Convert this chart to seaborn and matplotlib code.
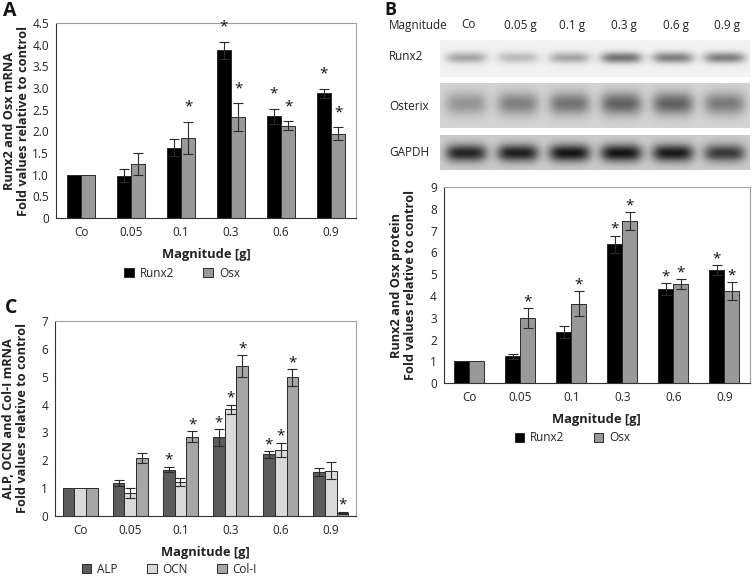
import numpy as np
import pandas as pd
import matplotlib
matplotlib.use("Agg")
import matplotlib.pyplot as plt
import matplotlib.transforms as mtransforms
import seaborn as sns

magnitudes = ["Co", "0.05", "0.1", "0.3", "0.6", "0.9"]
lane_labels = ["Co", "0.05 g", "0.1 g", "0.3 g", "0.6 g", "0.9 g"]

# panel A - mRNA
a_runx2 = [1.0, 0.98, 1.62, 3.87, 2.35, 2.88]
a_runx2_err = [0.0, 0.15, 0.20, 0.20, 0.17, 0.10]
a_runx2_sig = [0, 0, 0, 1, 1, 1]
a_osx = [1.0, 1.25, 1.85, 2.33, 2.13, 1.95]
a_osx_err = [0.0, 0.25, 0.37, 0.32, 0.10, 0.14]
a_osx_sig = [0, 0, 1, 1, 1, 1]

# panel B - protein
b_runx2 = [1.0, 1.22, 2.34, 6.38, 4.32, 5.20]
b_runx2_err = [0.0, 0.10, 0.28, 0.40, 0.28, 0.23]
b_runx2_sig = [0, 0, 0, 1, 1, 1]
b_osx = [1.0, 2.99, 3.65, 7.44, 4.55, 4.23]
b_osx_err = [0.0, 0.45, 0.56, 0.42, 0.22, 0.42]
b_osx_sig = [0, 1, 1, 1, 1, 1]

# panel C - ALP, OCN, Col-I mRNA
c_alp = [1.0, 1.18, 1.67, 2.82, 2.22, 1.58]
c_alp_err = [0.0, 0.10, 0.10, 0.30, 0.12, 0.13]
c_alp_sig = [0, 0, 1, 1, 1, 0]
c_ocn = [1.0, 0.82, 1.22, 3.83, 2.38, 1.63]
c_ocn_err = [0.0, 0.18, 0.14, 0.17, 0.25, 0.30]
c_ocn_sig = [0, 0, 0, 1, 1, 0]
c_col = [1.0, 2.08, 2.85, 5.38, 4.97, 0.12]
c_col_err = [0.0, 0.18, 0.20, 0.40, 0.30, 0.04]
c_col_sig = [0, 0, 1, 1, 1, 1]

# western blot band strengths (0 = none, 1 = black)
blot_runx2 = [0.30, 0.22, 0.30, 0.50, 0.45, 0.45]
blot_osterix = [0.25, 0.33, 0.38, 0.45, 0.45, 0.35]
blot_gapdh = [0.66, 0.68, 0.72, 0.72, 0.70, 0.58]


def make_df(names, values, errs, sigs):
    rows = []
    for name, v, e, s in zip(names, values, errs, sigs):
        for m, vi, ei, si in zip(magnitudes, v, e, s):
            rows.append({"magnitude": m, "gene": name, "value": vi, "err": ei, "sig": si})
    return pd.DataFrame(rows)


sns.set_style("white")
plt.rcParams["font.family"] = ["Open Sans", "DejaVu Sans"]
txt = "#222222"

fig = plt.figure(figsize=(7.56, 5.76), dpi=100)


def bar_panel(ax, df, palette, width, ymax, yticks, yticklabels, ylabel, star_pt, legend_x, legend_y):
    genes = list(df["gene"].unique())
    sns.barplot(data=df, x="magnitude", y="value", hue="gene", palette=palette,
                width=width, errorbar=None, saturation=1, edgecolor="#2a2a2a",
                linewidth=0.7, ax=ax)
    for cont, gene in zip(ax.containers, genes):
        sub = df[df["gene"] == gene]
        for bar, (_, row) in zip(cont, sub.iterrows()):
            x = bar.get_x() + bar.get_width() / 2
            top = bar.get_height()
            if row["err"] > 0:
                ax.errorbar(x, top, yerr=row["err"], fmt="none", ecolor="#2a2a2a",
                            elinewidth=0.8, capsize=3.5, capthick=0.8)
            if row["sig"]:
                ax.annotate("*", xy=(x, top + row["err"]), xytext=(0, star_pt),
                            textcoords="offset points", ha="center", va="baseline",
                            fontsize=11, color="#111111")
    ax.set_xlim(-0.5, 5.5)
    ax.set_ylim(0, ymax)
    ax.set_yticks(yticks)
    ax.set_yticklabels(yticklabels)
    ax.set_xticks(range(len(magnitudes)))
    ax.set_xticklabels(magnitudes)
    ax.set_xticks(np.arange(-0.5, 6, 1), minor=True)
    ax.tick_params(axis="x", which="major", length=0, pad=6, labelsize=8.5, labelcolor=txt)
    ax.tick_params(axis="x", which="minor", length=4, width=0.8, color="#555555", direction="out")
    ax.tick_params(axis="y", length=3, width=0.8, color="#333333", direction="out",
                   labelsize=8.5, labelcolor=txt, pad=2)
    ax.set_xlabel("Magnitude [g]", fontsize=9.3, fontweight="bold", color=txt, labelpad=6)
    ax.set_ylabel(ylabel, fontsize=9.2, fontweight="bold", color=txt, linespacing=1.05)
    ax.yaxis.set_label_coords(-0.088, 0.5)
    for s in ["left", "bottom"]:
        ax.spines[s].set_color("#333333")
        ax.spines[s].set_linewidth(0.8)
    for s in ["top", "right"]:
        ax.spines[s].set_color("#a0a0a0")
        ax.spines[s].set_linewidth(0.8)
    sns.move_legend(ax, "center", bbox_to_anchor=(legend_x, legend_y), ncol=len(genes),
                    frameon=False, title=None, fontsize=8.5, handlelength=0.8,
                    handleheight=0.8, handletextpad=0.5, columnspacing=2.5)
    for t in ax.get_legend().get_texts():
        t.set_color(txt)


# panel A
ax_a = fig.add_axes([0.074, 0.6215, 0.397, 0.3385])
df_a = make_df(["Runx2", "Osx"], [a_runx2, a_osx], [a_runx2_err, a_osx_err], [a_runx2_sig, a_osx_sig])
bar_panel(ax_a, df_a, ["#000000", "#999999"], 0.57, 4.5, np.arange(0, 4.51, 0.5),
          ["0", "0.5", "1.0", "1.5", "2.0", "2.5", "3.0", "3.5", "4.0", "4.5"],
          "Runx2 and Osx mRNA\nFold values relative to control", 8, 0.42, -0.285)

# panel B chart
ax_b = fig.add_axes([0.587, 0.335, 0.405, 0.340])
df_b = make_df(["Runx2", "Osx"], [b_runx2, b_osx], [b_runx2_err, b_osx_err], [b_runx2_sig, b_osx_sig])
bar_panel(ax_b, df_b, ["#000000", "#999999"], 0.59, 9, range(10), [str(i) for i in range(10)],
          "Runx2 and Osx protein\nFold values relative to control", 2, 0.42, -0.28)

# panel C
ax_c = fig.add_axes([0.0728, 0.104, 0.398, 0.339])
df_c = make_df(["ALP", "OCN", "Col-I"], [c_alp, c_ocn, c_col], [c_alp_err, c_ocn_err, c_col_err],
               [c_alp_sig, c_ocn_sig, c_col_sig])
bar_panel(ax_c, df_c, ["#5c5c5c", "#d9d9d9", "#a6a6a6"], 0.70, 7, range(8), [str(i) for i in range(8)],
          "ALP, OCN and Col-I mRNA\nFold values relative to control", 2, 0.38, -0.272)


# western blot strips
def blot_strip(rect, bands, bg, y0, band_h):
    ax = fig.add_axes(rect)
    h, w = 60, 310
    yy, xx = np.mgrid[0:h, 0:w]
    img = np.full((h, w), bg, dtype=float)
    lane_w = w / len(bands)
    for k, b in enumerate(bands):
        cx = lane_w * (k + 0.5)
        px = np.exp(-((xx - cx) / (lane_w * 0.4)) ** 4)
        py = np.exp(-((yy - y0 * h) / (band_h * h)) ** 2)
        img -= b * px * py
    ax.imshow(np.clip(img, 0, 1), cmap="gray", vmin=0, vmax=1, aspect="auto",
              interpolation="bilinear")
    ax.axis("off")
    return ax


ax_r = blot_strip([0.582, 0.866, 0.410, 0.064], blot_runx2, 0.95, 0.47, 0.15)
ax_o = blot_strip([0.582, 0.778, 0.410, 0.078], blot_osterix, 0.83, 0.45, 0.25)
ax_g = blot_strip([0.582, 0.705, 0.410, 0.061], blot_gapdh, 0.80, 0.52, 0.24)

head_y = 1 - 25 / 576
trans = mtransforms.blended_transform_factory(ax_r.transAxes, fig.transFigure)
for k, lab in enumerate(lane_labels):
    ax_r.text((k + 0.5) / 6 + 0.01, head_y, lab, transform=trans, ha="center",
              va="center", fontsize=8.5, color=txt)
fig.text(389 / 756, head_y, "Magnitude", ha="left", va="center", fontsize=8.5, color=txt)
fig.text(389 / 756, 1 - 57 / 576, "Runx2", ha="left", va="center", fontsize=8.5, color=txt)
fig.text(389 / 756, 1 - 107 / 576, "Osterix", ha="left", va="center", fontsize=8.5, color=txt)
fig.text(389 / 756, 1 - 153 / 576, "GAPDH", ha="left", va="center", fontsize=8.5, color=txt)

# panel letters
fig.text(0.004, 0.998, "A", ha="left", va="top", fontsize=14, fontweight="bold", color="#111111")
fig.text(0.509, 1 - 1 / 576, "B", ha="left", va="top", fontsize=13, fontweight="bold", color="#111111")
fig.text(0.006, 1 - 298 / 576, "C", ha="left", va="top", fontsize=14, fontweight="bold", color="#111111")

plt.savefig("out.png", dpi=100)
plt.close()
